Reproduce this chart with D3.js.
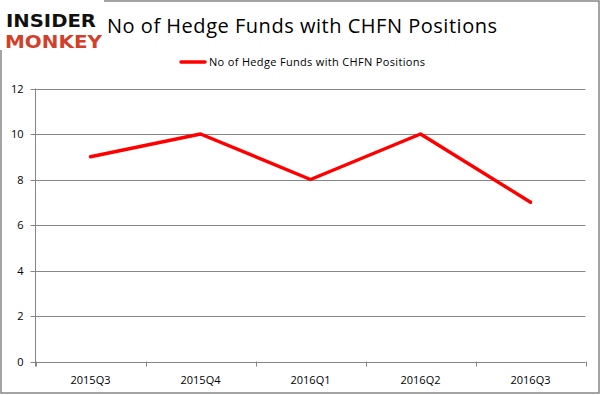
<!DOCTYPE html>
<html>
<head>
<meta charset="utf-8">
<script src="https://cdn.jsdelivr.net/npm/d3@7"></script>
<style>
  body { margin: 0; background: #fff; }
  svg { display: block; }
</style>
</head>
<body>
<svg width="601" height="395"></svg>
<script>
// chart data
const quarters = ['2015Q3', '2015Q4', '2016Q1', '2016Q2', '2016Q3'];
const fundCounts = [9, 10, 8, 10, 7];
const yTicks = [0, 2, 4, 6, 8, 10, 12];
const seriesName = 'No of Hedge Funds with CHFN Positions';
const titleText = 'No of Hedge Funds with CHFN Positions';

const svg = d3.select('svg');
const width = +svg.attr('width');
const height = +svg.attr('height');
const font = "'Open Sans', 'DejaVu Sans', sans-serif";
const gridColor = '#868686';
const lineColor = '#ff0000';

const plot = { left: 35.5, right: 585.5, top: 88.5, bottom: 361.5 };

// outer frame
svg.append('rect')
    .attr('x', 1).attr('y', 1)
    .attr('width', width - 3).attr('height', height - 3)
    .attr('fill', '#fff')
    .attr('stroke', gridColor)
    .attr('stroke-width', 1.5);

const x = d3.scaleBand()
    .domain(quarters)
    .range([plot.left, plot.right]);

const y = d3.scaleLinear()
    .domain([0, 12])
    .range([plot.bottom, plot.top]);

// horizontal grid
svg.append('g')
    .selectAll('line')
    .data(yTicks)
    .enter().append('line')
    .attr('x1', plot.left - 5)
    .attr('x2', plot.right)
    .attr('y1', d => Math.round(y(d)) + 0.5)
    .attr('y2', d => Math.round(y(d)) + 0.5)
    .attr('stroke', gridColor)
    .attr('stroke-width', 1);

// y axis line
svg.append('line')
    .attr('x1', plot.left).attr('x2', plot.left)
    .attr('y1', plot.top).attr('y2', plot.bottom + 5)
    .attr('stroke', gridColor);

// y labels
svg.append('g')
    .selectAll('text')
    .data(yTicks)
    .enter().append('text')
    .attr('x', plot.left - 12)
    .attr('y', d => y(d) + 4)
    .attr('text-anchor', 'end')
    .attr('font-family', font)
    .attr('font-size', 11)
    .attr('fill', '#000')
    .text(d => d);

// x axis ticks on band boundaries
const boundaries = quarters.map(q => x(q)).concat([x(quarters[quarters.length - 1]) + x.bandwidth()]);
svg.append('g')
    .selectAll('line')
    .data(boundaries)
    .enter().append('line')
    .attr('x1', d => Math.round(d) + 0.5)
    .attr('x2', d => Math.round(d) + 0.5)
    .attr('y1', plot.bottom)
    .attr('y2', plot.bottom + 5)
    .attr('stroke', gridColor);

svg.append('g')
    .selectAll('text')
    .data(quarters)
    .enter().append('text')
    .attr('x', d => x(d) + x.bandwidth() / 2)
    .attr('y', 384)
    .attr('text-anchor', 'middle')
    .attr('font-family', font)
    .attr('font-size', 11)
    .attr('fill', '#000')
    .text(d => d);

// series line
const line = d3.line()
    .x((d, i) => x(quarters[i]) + x.bandwidth() / 2)
    .y(d => y(d));

svg.append('path')
    .datum(fundCounts)
    .attr('d', line)
    .attr('fill', 'none')
    .attr('stroke', lineColor)
    .attr('stroke-width', 3.5)
    .attr('stroke-linecap', 'round')
    .attr('stroke-linejoin', 'round');

// legend
svg.append('line')
    .attr('x1', 181).attr('x2', 205)
    .attr('y1', 62).attr('y2', 62)
    .attr('stroke', lineColor)
    .attr('stroke-width', 3.5)
    .attr('stroke-linecap', 'round');

svg.append('text')
    .attr('x', 209)
    .attr('y', 66)
    .attr('font-family', font)
    .attr('font-size', 11)
    .attr('fill', '#000')
    .attr('textLength', 216)
    .text(seriesName);

// title
svg.append('text')
    .attr('x', 107)
    .attr('y', 33)
    .attr('font-family', font)
    .attr('font-size', 20)
    .attr('fill', '#000')
    .attr('textLength', 390)
    .text(titleText);

// logo
const logo = svg.append('g');
logo.append('rect')
    .attr('x', 0).attr('y', 0)
    .attr('width', 104).attr('height', 50)
    .attr('fill', '#fff');
logo.append('text')
    .attr('x', 6).attr('y', 27)
    .attr('font-family', "'DejaVu Sans', sans-serif")
    .attr('font-weight', 'bold')
    .attr('font-size', 18)
    .attr('textLength', 90)
    .attr('lengthAdjust', 'spacingAndGlyphs')
    .attr('fill', '#111')
    .text('INSIDER');
logo.append('text')
    .attr('x', 5).attr('y', 48)
    .attr('font-family', "'DejaVu Sans', sans-serif")
    .attr('font-weight', 'bold')
    .attr('font-size', 18)
    .attr('textLength', 97)
    .attr('lengthAdjust', 'spacingAndGlyphs')
    .attr('fill', '#d23f2b')
    .text('MONKEY');
</script>
</body>
</html>
